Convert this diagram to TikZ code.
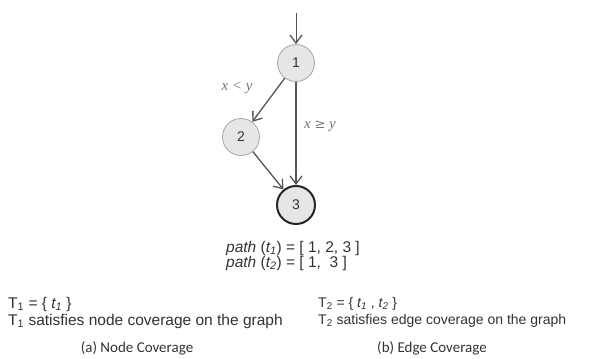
\documentclass[tikz,border=0pt]{standalone}
\usepackage{fontspec}
\setmainfont{Liberation Sans}
\newfontfamily\capfont{Carlito}
\newfontfamily\serffont{Liberation Serif}
\newfontfamily\symfont{DejaVu Serif}
\usetikzlibrary{arrows.meta}
\definecolor{nodefill}{HTML}{E6E6E6}
\definecolor{nodeline}{HTML}{A8A8A8}
\definecolor{edgecol}{HTML}{555555}
\definecolor{textcol}{HTML}{333333}
\begin{document}
\begin{tikzpicture}[x=1pt,y=-1pt,
  vert/.style={circle,minimum size=37pt,inner sep=0pt,fill=nodefill,draw=nodeline,line width=0.8pt,font=\fontsize{14}{16}\selectfont,text=textcol},
  final/.style={vert,minimum size=38pt,draw=black!85,line width=2pt},
  edge/.style={draw=edgecol,line width=1.3pt,-{Straight Barb[length=8pt,width=12pt,line width=1.3pt]}},
  cond/.style={font=\serffont\itshape\fontsize{15}{17}\selectfont,text=black!55},
  body/.style={font=\fontsize{15.5}{17}\selectfont,text=textcol,anchor=west,inner sep=0pt},
  bodyr/.style={font=\fontsize{14}{16}\selectfont,text=textcol,anchor=west,inner sep=0pt},
  pathtext/.style={font=\fontsize{15.5}{17}\selectfont,text=textcol,inner sep=0pt},
  captext/.style={font=\capfont\fontsize{15}{17}\selectfont,text=textcol,inner sep=0pt}]
\useasboundingbox (0,0) rectangle (595,359);
\fill[white] (0,0) rectangle (595,359);
\node[vert] (n1) at (296,63) {1};
\node[vert] (n2) at (241,137) {2};
\node[final] (n3) at (296,205) {3};
\coordinate (start) at (296,13);
\draw[edge,line width=1pt] (start) -- (n1);
\draw[edge] (n1) -- (n2);
\draw[edge] (n1) -- (n3);
\draw[edge] (n2) -- (n3);
\node[cond] (c1) at (237,88) {x < y};
\node[cond] (c2) at (320,126) {x {\symfont\fontsize{13}{15}\selectfont ≥} y};
\node[pathtext,anchor=west] (p1) at (226,248) {\textit{path} (\textit{t\textsubscript{1}}) = [ 1, 2, 3 ]};
\node[pathtext,anchor=west] (p2) at (226,263) {\textit{path} (\textit{t\textsubscript{2}}) = [ 1,\ \ 3 ]};
\node[body] (a1) at (8,304) {T\textsubscript{1} = \{ \textit{t\textsubscript{1}} \}};
\node[body] (a2) at (8,321) {T\textsubscript{1} satisfies node coverage on the graph};
\node[captext] (a3) at (137,348) {(a) Node Coverage};
\node[bodyr] (b1) at (318,304) {T\textsubscript{2} = \{ \textit{t\textsubscript{1}} , \textit{t\textsubscript{2}} \}};
\node[bodyr] (b2) at (318,321) {T\textsubscript{2} satisfies edge coverage on the graph};
\node[captext] (b3) at (432,348) {(b) Edge Coverage};
\end{tikzpicture}
\end{document}
